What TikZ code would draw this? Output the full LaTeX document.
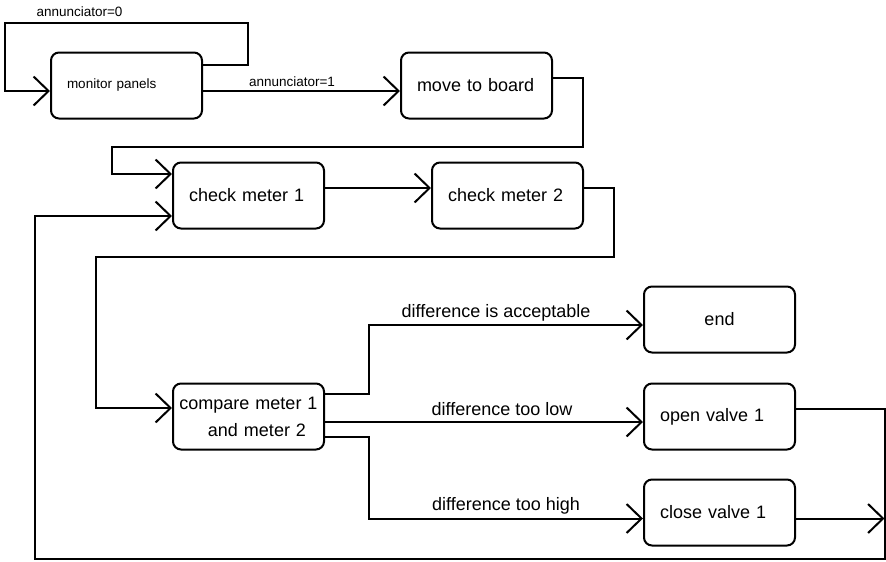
\documentclass[tikz,border=0pt]{standalone}
\usepackage{fontspec}
\setmainfont{Liberation Sans}
\usetikzlibrary{positioning,arrows.meta}

\tikzset{
	state/.style={draw, line width=2pt, rounded corners=8pt, minimum width=151pt, minimum height=66pt, text width=119pt, inner xsep=16pt, align=left, font=\fontsize{18}{27}\selectfont},
	note/.style={anchor=base, font=\fontsize{13.5}{16}\selectfont},
	cond/.style={anchor=base, font=\fontsize{18}{22}\selectfont},
	flow/.style={line width=2pt, -{Straight Barb[length=15pt,width=29pt]}},
}

\begin{document}
\begin{tikzpicture}[x=1pt, y=-1pt]
	\useasboundingbox (0,0) rectangle (886,562);
	
	\node[state, note, anchor=center] (monitor) at (126.5,85.5) {monitor panels};
	\node[state, right=197pt of monitor] (move) {move to board};
	\node[state] (check1) at (248.5,195.5) {check meter 1};
	\node[state, right=106pt of check1] (check2) {check meter 2};
	\node[state, below=153pt of check1, text width=141pt, inner xsep=5pt, align=center] (compare) {compare meter 1\\\hspace*{17pt}and meter 2};
	\node[state, right=318pt of compare] (open) {open valve 1};
	\node[state, above=29pt of open, align=center] (done) {end};
	\node[state, below=28pt of open] (close) {close valve 1};
	\coordinate (rail) at (884.5,559);
	
	\node[note] (ann0) at (79.5,16.5) {annunciator=0};
	\node[note] (ann1) at (292,86) {annunciator=1};
	\node[cond] (acc) at (496,317.5) {difference is acceptable};
	\node[cond] (low) at (502,415) {difference too low};
	\node[cond] (high) at (506,510.5) {difference too high};
	
	\draw[flow] ([yshift=20.5pt]monitor.east) -- ++(45,0) |- (5,23) |- ([yshift=-5.5pt]monitor.west);
	\draw[flow] ([yshift=-5.5pt]monitor.east) -- ([yshift=-5.5pt]move.west);
	\draw[flow] ([yshift=8pt]move.east) -- ++(30,0) |- (112,147) |- ([yshift=21.5pt]check1.west);
	\draw[flow] ([yshift=7.5pt]check1.east) -- ([yshift=7.5pt]check2.west);
	\draw[flow] ([yshift=7.5pt]check2.east) -- ++(30,0) |- (96,257) |- ([yshift=8.5pt]compare.west);
	\draw[flow] ([yshift=22.5pt]compare.east) -- ++(44,0) |- ([yshift=-5.5pt]done.west);
	\draw[flow] ([yshift=-5.5pt]compare.east) -- ([yshift=-5.5pt]open.west);
	\draw[flow] ([yshift=-20.5pt]compare.east) -- ++(44,0) |- ([yshift=-6pt]close.west);
	\draw[flow] ([yshift=7.5pt]open.east) -| (rail) -- (35,559) |- ([yshift=-20.5pt]check1.west);
	\draw[flow] ([yshift=-6pt]close.east) coordinate (cv) -- (cv -| rail);
\end{tikzpicture}
\end{document}
